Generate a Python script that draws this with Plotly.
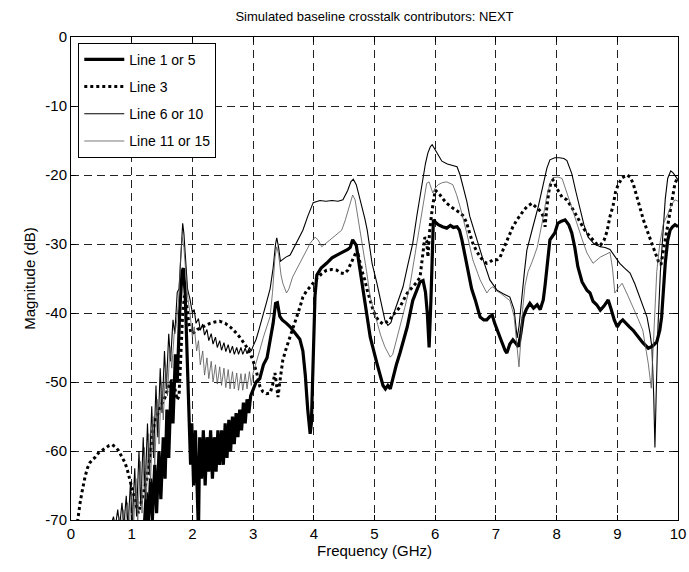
import plotly.graph_objects as go

# ---- data: NEXT magnitude (dB) versus frequency (GHz) ----
freq_line1 = [1.20, 1.24, 1.27, 1.31, 1.34, 1.38, 1.41, 1.45, 1.48, 1.52, 1.55, 1.58, 1.61, 1.65, 1.68,
              1.72, 1.75, 1.79, 1.83, 1.85, 1.88, 1.91, 1.94, 1.97, 1.99, 2.02, 2.05, 2.08, 2.10, 2.12,
              2.15, 2.18, 2.21, 2.24, 2.27, 2.30, 2.33, 2.36, 2.39, 2.42, 2.45, 2.48, 2.51, 2.54, 2.57,
              2.60, 2.63, 2.66, 2.69, 2.72, 2.75, 2.78, 2.81, 2.84, 2.87, 2.90, 2.93, 2.96, 3.00, 3.05,
              3.11, 3.17, 3.23, 3.28, 3.33, 3.37, 3.40, 3.44, 3.48, 3.55, 3.61, 3.70, 3.77, 3.82, 3.86,
              3.90, 3.94, 3.96, 3.98, 4.00, 4.02, 4.05, 4.12, 4.21, 4.30, 4.38, 4.48, 4.56, 4.60, 4.64,
              4.70, 4.76, 4.84, 4.93, 5.04, 5.10, 5.14, 5.18, 5.22, 5.26, 5.30, 5.36, 5.42, 5.48, 5.54,
              5.63, 5.70, 5.75, 5.80, 5.84, 5.87, 5.90, 5.93, 5.95, 5.97, 6.00, 6.05, 6.12, 6.19, 6.25,
              6.30, 6.36, 6.40, 6.44, 6.50, 6.54, 6.60, 6.66, 6.70, 6.74, 6.80, 6.85, 6.90, 6.94, 6.98,
              7.02, 7.08, 7.15, 7.18, 7.23, 7.28, 7.32, 7.37, 7.41, 7.45, 7.50, 7.56, 7.62, 7.68, 7.73,
              7.78, 7.81, 7.84, 7.89, 7.97, 8.02, 8.08, 8.14, 8.20, 8.25, 8.30, 8.35, 8.42, 8.50, 8.55,
              8.60, 8.66, 8.72, 8.78, 8.85, 8.90, 8.95, 9.00, 9.05, 9.09, 9.15, 9.20, 9.26, 9.34, 9.42,
              9.51, 9.58, 9.65, 9.70, 9.73, 9.76, 9.79, 9.83, 9.87, 9.91, 9.95, 10.0]
mag_line1 = [-72, -66, -71, -64, -70, -62, -69, -60, -67, -58, -64, -54, -61, -50, -56,
             -46, -50, -40, -34, -33.5, -37, -45, -55, -62, -56, -65, -57, -66, -72, -58,
             -64, -57, -65, -58, -63, -57, -64, -58, -63, -57, -62, -57, -62, -56, -61,
             -55.5, -60, -55, -59, -54.5, -58, -54, -57, -53, -56, -52.5, -54.5, -52, -51, -50,
             -49.5, -47.5, -46.5, -44, -41.5, -38.6, -38.5, -40.5, -41, -41.5, -42, -43, -43.8, -45.5, -49,
             -54, -57.5, -56, -50, -42, -37.5, -34.5, -33.5, -32.8, -32, -31.6, -31.2, -30.8, -30.5, -29.4,
             -30.2, -33.8, -38.6, -43.5, -47.3, -49.5, -50.5, -51, -50.5, -51, -49.5, -47.5, -45.8, -44, -42,
             -38.2, -36.5, -35.5, -35.3, -37, -40, -45, -38, -30, -26.5, -26.8, -27.2, -27.5, -27.7, -27.3,
             -27.6, -27.5, -28, -29.4, -32, -34.2, -36.5, -38.1, -39.5, -40.6, -41, -41, -40.5, -40.3, -41.5,
             -42.5, -43.8, -45.4, -45.8, -44.5, -43.9, -44.3, -44.9, -43, -40.6, -39.5, -38.6, -39.3, -38.8, -39.5,
             -38.1, -36, -33.3, -29.4, -28.4, -27, -26.7, -26.5, -27.2, -28.4, -30.5, -33.3, -35.5, -36.7, -37.1,
             -38.3, -38.8, -39.6, -39, -38.1, -39.5, -41, -42, -41.3, -41, -41.6, -42, -42.5, -43.5, -44.3,
             -45.1, -44.8, -44.2, -42.5, -40.6, -36.5, -32.8, -29.5, -28, -27.5, -27.2, -27.5]

freq_line3 = [0.08, 0.12, 0.15, 0.18, 0.21, 0.23, 0.27, 0.31, 0.36, 0.40, 0.45, 0.51, 0.57, 0.63, 0.68,
              0.73, 0.78, 0.84, 0.89, 0.93, 0.97, 1.01, 1.05, 1.08, 1.11, 1.14, 1.17, 1.21, 1.25, 1.29,
              1.32, 1.35, 1.39, 1.43, 1.49, 1.55, 1.60, 1.66, 1.70, 1.75, 1.78, 1.81, 1.84, 1.87, 1.90,
              1.94, 1.98, 2.03, 2.08, 2.13, 2.21, 2.29, 2.37, 2.45, 2.54, 2.62, 2.70, 2.78, 2.87, 2.95,
              3.01, 3.06, 3.11, 3.16, 3.22, 3.28, 3.32, 3.36, 3.38, 3.41, 3.44, 3.49, 3.55, 3.61, 3.67,
              3.72, 3.77, 3.82, 3.88, 3.94, 4.00, 4.05, 4.13, 4.21, 4.30, 4.38, 4.44, 4.50, 4.56, 4.60,
              4.64, 4.69, 4.73, 4.79, 4.84, 4.88, 4.96, 5.02, 5.08, 5.14, 5.20, 5.25, 5.30, 5.36, 5.42,
              5.48, 5.54, 5.63, 5.70, 5.75, 5.79, 5.83, 5.86, 5.88, 5.91, 5.95, 6.00, 6.04, 6.08, 6.14,
              6.19, 6.29, 6.41, 6.47, 6.52, 6.57, 6.62, 6.68, 6.74, 6.80, 6.85, 6.90, 6.95, 7.02, 7.07,
              7.12, 7.18, 7.23, 7.28, 7.34, 7.40, 7.46, 7.51, 7.59, 7.68, 7.74, 7.78, 7.81, 7.84, 7.87,
              7.91, 7.94, 7.97, 8.00, 8.09, 8.17, 8.27, 8.33, 8.39, 8.45, 8.50, 8.60, 8.66, 8.72, 8.78,
              8.83, 8.88, 8.93, 8.97, 9.01, 9.08, 9.16, 9.21, 9.26, 9.31, 9.37, 9.43, 9.49, 9.54, 9.59,
              9.64, 9.68, 9.72, 9.75, 9.79, 9.83, 9.87, 9.91, 9.95, 10.0]
mag_line3 = [-72, -69, -67.5, -66, -64.5, -63.8, -62.5, -61.7, -61.2, -60.9, -60.3, -59.9, -59.5, -59.2, -59.1,
             -59.4, -59.9, -60.8, -61.7, -62.8, -64.2, -65.6, -67.1, -68.3, -69, -68, -66.8, -65.5, -64, -61.5,
             -59, -57, -55.5, -54.5, -53.3, -52.2, -50.8, -49.7, -50.5, -52.6, -52, -46, -40, -37.5, -38.5,
             -41.5, -43, -42.8, -42.4, -42.2, -41.8, -41.5, -41.3, -41.2, -41.5, -42, -42.7, -43.5, -44.6, -45.8,
             -47.2, -48.7, -50.6, -51.4, -51.7, -51.6, -50.5, -48.7, -50, -52.2, -50, -46.8, -45, -43.5, -42,
             -40.6, -39.2, -37.7, -36.8, -36.2, -35.5, -35, -34.3, -33.8, -33.7, -33.8, -34.2, -34.3, -33.8, -33,
             -32.3, -31.3, -31.5, -33.8, -35.2, -36.7, -39.1, -40.5, -41.2, -41.6, -41.3, -41, -40.3, -39.8, -39.1,
             -38, -37.1, -36.2, -35.5, -34.8, -32, -29, -29.5, -31.9, -28, -25, -22.2, -22.5, -22.9, -23.6,
             -24.1, -24.8, -25.5, -26, -27, -28.5, -29.9, -31, -31.9, -32.5, -32.8, -32.6, -32.3, -32.3, -31.9,
             -30.8, -29.6, -28.5, -27.5, -26.6, -25.8, -25.1, -24.6, -24.1, -24.8, -25.3, -26, -27.5, -24.6, -22.5,
             -21, -20.7, -21.2, -21.9, -23.2, -23.6, -25, -26, -27, -27.8, -28.4, -29.4, -30, -30.2, -29.5,
             -28.2, -26, -24.5, -22.5, -21.5, -20.4, -20, -20.3, -21.2, -22.8, -24.6, -26.5, -28, -29.3, -30.4,
             -31.6, -32.6, -33, -31.5, -29.4, -27.5, -25.5, -23.2, -21.2, -20.3]

freq_line6 = [0.65, 0.70, 0.73, 0.77, 0.80, 0.84, 0.87, 0.91, 0.94, 0.98, 1.01, 1.05, 1.08, 1.12, 1.15,
              1.19, 1.22, 1.26, 1.29, 1.33, 1.36, 1.40, 1.43, 1.47, 1.50, 1.54, 1.57, 1.61, 1.64, 1.68,
              1.71, 1.75, 1.78, 1.81, 1.84, 1.86, 1.89, 1.92, 1.96, 2.00, 2.03, 2.06, 2.10, 2.13, 2.17,
              2.20, 2.24, 2.27, 2.31, 2.34, 2.38, 2.41, 2.45, 2.48, 2.52, 2.55, 2.59, 2.62, 2.66, 2.69,
              2.73, 2.76, 2.80, 2.83, 2.87, 2.90, 2.94, 2.97, 3.00, 3.05, 3.10, 3.16, 3.22, 3.28, 3.33,
              3.37, 3.39, 3.42, 3.45, 3.48, 3.54, 3.61, 3.70, 3.82, 3.90, 3.99, 4.10, 4.20, 4.30, 4.40,
              4.48, 4.56, 4.61, 4.65, 4.70, 4.74, 4.79, 4.84, 4.88, 4.96, 5.04, 5.10, 5.17, 5.22, 5.27,
              5.32, 5.40, 5.47, 5.55, 5.63, 5.70, 5.78, 5.84, 5.88, 5.92, 5.95, 6.00, 6.05, 6.11, 6.20,
              6.30, 6.36, 6.41, 6.46, 6.52, 6.57, 6.63, 6.69, 6.79, 6.90, 7.02, 7.12, 7.23, 7.30, 7.35,
              7.38, 7.42, 7.47, 7.51, 7.56, 7.61, 7.70, 7.78, 7.84, 7.89, 7.97, 8.05, 8.12, 8.17, 8.25,
              8.32, 8.39, 8.45, 8.52, 8.62, 8.72, 8.80, 8.88, 8.96, 9.04, 9.12, 9.21, 9.29, 9.37, 9.44,
              9.49, 9.54, 9.57, 9.60, 9.62, 9.64, 9.67, 9.71, 9.75, 9.79, 9.83, 9.88, 9.92, 9.96, 10.0]
mag_line6 = [-71, -69.5, -71, -68.5, -71, -67.5, -71, -66.5, -71, -64.5, -70.5, -62.5, -69.5, -60, -68,
             -58, -66, -56, -63.5, -53.5, -61, -50.5, -58, -48, -54.5, -45.5, -51, -43, -47, -41,
             -43, -37, -36.5, -31, -27, -28.5, -33, -36.5, -38, -40, -39.5, -41.5, -40.8, -42.5, -41.6,
             -43.2, -42.4, -44, -43, -44.5, -43.5, -45, -44, -45.4, -44.3, -45.6, -44.6, -45.8, -44.8, -46,
             -45, -46, -45, -46, -45.1, -45.9, -45, -45.5, -44.8, -43.8, -42.3, -40.5, -38.5, -36.5, -33.5,
             -30, -29.1, -30.5, -32.5, -32.3, -31.9, -31.6, -30, -28, -26, -24, -23.7, -23.8, -23.7, -23.8,
             -23.6, -22.2, -21, -20.6, -21.4, -22.7, -24.3, -26.3, -28, -32.8, -35.7, -38, -41, -41.8, -41.4,
             -40, -38, -36.2, -33, -29.9, -25.8, -21.2, -18.3, -16.8, -15.9, -15.6, -16.3, -17.2, -18, -18.4,
             -18.6, -18.8, -20, -21.7, -23.8, -26, -27.8, -29.4, -32.3, -35.2, -36.7, -37.2, -37.7, -39.5, -43.6,
             -42, -38, -34, -30.9, -29, -27.5, -24.5, -21.2, -19, -17.8, -17.5, -17.5, -17.6, -17.9, -19.8,
             -22.5, -25, -27.2, -29, -30, -30.4, -30.5, -30.8, -31.8, -32.8, -33.5, -34.2, -35.8, -37.7, -39.3,
             -40.6, -43, -45, -52, -59.5, -52, -42, -34, -28, -23.5, -20.5, -19.4, -19.7, -20.3, -20.7]

freq_line11 = [0.68, 0.72, 0.75, 0.79, 0.82, 0.86, 0.89, 0.93, 0.96, 1.00, 1.03, 1.07, 1.10, 1.14, 1.17,
               1.21, 1.24, 1.28, 1.31, 1.35, 1.38, 1.42, 1.45, 1.49, 1.52, 1.56, 1.59, 1.63, 1.66, 1.70,
               1.73, 1.77, 1.80, 1.83, 1.86, 1.89, 1.92, 1.96, 2.00, 2.03, 2.07, 2.10, 2.13, 2.17, 2.20,
               2.24, 2.27, 2.31, 2.34, 2.38, 2.41, 2.45, 2.48, 2.52, 2.55, 2.59, 2.62, 2.66, 2.69, 2.73,
               2.76, 2.80, 2.83, 2.87, 2.90, 2.94, 2.97, 3.00, 3.05, 3.11, 3.17, 3.23, 3.28, 3.32, 3.36,
               3.39, 3.42, 3.46, 3.49, 3.55, 3.59, 3.65, 3.77, 3.86, 3.94, 4.02, 4.07, 4.13, 4.20, 4.30,
               4.38, 4.46, 4.52, 4.57, 4.61, 4.64, 4.68, 4.71, 4.76, 4.81, 4.87, 4.93, 5.04, 5.10, 5.17,
               5.26, 5.30, 5.36, 5.42, 5.50, 5.58, 5.66, 5.75, 5.81, 5.86, 5.90, 5.93, 5.96, 6.00, 6.05,
               6.12, 6.19, 6.29, 6.35, 6.41, 6.47, 6.52, 6.62, 6.74, 6.85, 6.90, 6.95, 7.01, 7.07, 7.15,
               7.23, 7.30, 7.34, 7.38, 7.41, 7.44, 7.48, 7.53, 7.60, 7.68, 7.76, 7.84, 7.90, 7.94, 8.02,
               8.09, 8.17, 8.25, 8.34, 8.42, 8.50, 8.60, 8.72, 8.80, 8.88, 8.92, 8.96, 9.02, 9.08, 9.17,
               9.26, 9.34, 9.42, 9.47, 9.51, 9.56, 9.60, 9.65, 9.70, 9.76, 9.84, 9.90, 9.95, 10.0]
mag_line11 = [-71, -70, -71.5, -69.5, -71.5, -68.5, -71.5, -67.5, -71, -66, -71, -64, -70, -61.5, -69,
              -59.5, -67, -57.5, -64.5, -55, -62, -52.5, -59, -50, -55.5, -47.5, -52, -45, -48, -43,
              -42, -38.5, -33, -29, -30.5, -34, -37.5, -40, -43.5, -42, -45.5, -44, -47.5, -45.5, -49,
              -46.5, -49.5, -47, -50, -47.5, -50.3, -47.8, -50.5, -48, -50.8, -48.2, -51, -48.5, -51, -48.7,
              -51.2, -48.8, -51.2, -48.8, -51, -48.5, -50.5, -48.7, -47.3, -45.4, -43.5, -41.8, -40.5, -37, -32,
              -30.4, -31.5, -34.5, -35.7, -37.1, -36.5, -34.8, -32.8, -31.2, -29.9, -29, -29.4, -30.4, -29.9, -29.1,
              -28.6, -28, -26.5, -25, -23.6, -22.9, -23.6, -25.2, -27.8, -30.4, -34, -37.7, -41.5, -43.2, -44.9,
              -46.4, -46, -44, -42, -39.2, -36.2, -32, -27.5, -24, -21.2, -21, -21.8, -22.6, -21.9, -21.4,
              -21.1, -21, -21.4, -22.8, -24.6, -26.5, -28.4, -32.3, -35.2, -37.1, -36.5, -36.2, -36.8, -37.1, -37.6,
              -38.2, -40.5, -44, -47.8, -44, -39.5, -36, -34, -32.5, -30.5, -27, -23, -21, -20.4, -20.3,
              -20.5, -22.6, -24.8, -27, -29.3, -31.3, -32.8, -31.9, -31.5, -31.2, -33.5, -37.1, -36.3, -35.7, -37.4,
              -39.1, -40.8, -42.5, -45, -47.3, -50.9, -44, -34, -30, -27, -25.5, -24.2, -23.6, -23.8]

x_ticks = [0, 1, 2, 3, 4, 5, 6, 7, 8, 9, 10]
y_ticks = [0, -10, -20, -30, -40, -50, -60, -70]

FONT = "Liberation Sans, Arial, Helvetica, sans-serif"

fig = go.Figure()
fig.add_trace(go.Scatter(x=freq_line1, y=mag_line1, mode="lines", name="Line 1 or 5",
                         legendgroup="a", line=dict(color="black", width=3.2)))
fig.add_trace(go.Scatter(x=freq_line3, y=mag_line3, mode="lines", name="Line 3",
                         legendgroup="b", line=dict(color="black", width=3, dash="dot")))
fig.add_trace(go.Scatter(x=freq_line6, y=mag_line6, mode="lines", name="Line 6 or 10",
                         legendgroup="c", line=dict(color="black", width=1.1)))
fig.add_trace(go.Scatter(x=freq_line11, y=mag_line11, mode="lines", name="Line 11 or 15",
                         legendgroup="d", line=dict(color="#555555", width=0.8)))

axis_common = dict(
    showline=True, linecolor="black", linewidth=1, mirror="ticks",
    ticks="inside", ticklen=5, tickcolor="black",
    showgrid=True, gridcolor="#222222", gridwidth=1, griddash="8px,5px",
    zeroline=False, automargin=False,
    tickfont=dict(family=FONT, size=15, color="black"),
)

fig.update_xaxes(range=[0, 10], tickvals=x_ticks, ticktext=[str(v) for v in x_ticks],
                 title=dict(text="Frequency (GHz)", font=dict(family=FONT, size=15, color="black"),
                            standoff=4),
                 **axis_common)
fig.update_yaxes(range=[-70, 0], tickvals=y_ticks, ticktext=[str(v) for v in y_ticks],
                 title=dict(text="Magnitude (dB)", font=dict(family=FONT, size=15, color="black"),
                            standoff=6),
                 **axis_common)

fig.update_layout(
    width=689, height=572,
    margin=dict(l=71, r=11, t=37, b=52),
    paper_bgcolor="white", plot_bgcolor="white",
    title=dict(text="Simulated baseline crosstalk contributors: NEXT",
               x=0.5435, xanchor="center", y=0.972, yanchor="middle",
               font=dict(family=FONT, size=13, color="black")),
    legend=dict(x=0.012, y=0.988, xanchor="left", yanchor="top",
                bgcolor="white", bordercolor="black", borderwidth=1,
                font=dict(family=FONT, size=14, color="black"),
                tracegroupgap=6, itemwidth=40),
    showlegend=True,
)

fig.write_html("out.html")
